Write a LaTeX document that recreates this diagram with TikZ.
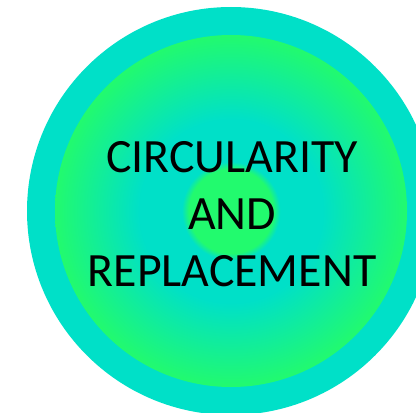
\documentclass[tikz,border=0pt]{standalone}
\usepackage{fontspec}
\setmainfont{Carlito}
\definecolor{ringaqua}{RGB}{0,224,200}
\definecolor{leafgreen}{RGB}{34,250,110}
\pgfdeclareradialshading{discglow}{\pgfpoint{0bp}{0bp}}{%
	color(0bp)=(leafgreen); color(6bp)=(leafgreen);
	color(7bp)=(ringaqua); color(13bp)=(ringaqua);
	color(25bp)=(leafgreen); color(50bp)=(leafgreen)}
\begin{document}
\begin{tikzpicture}
	\useasboundingbox (0,0) rectangle (10.4,10.3);
	\clip (0,0) rectangle (10.4,10.3);
	\coordinate (mid) at (5.775,5.025);
	
	\fill[ringaqua] (mid) circle (5.1);
	\shade[shading=discglow] (mid) circle (4.4);
	
	\node[align=center, font=\fontsize{34}{40.5}\selectfont] (title) at (5.8,4.95)
		{CIRCULARITY\\AND\\REPLACEMENT};
	
\end{tikzpicture}
\end{document}
